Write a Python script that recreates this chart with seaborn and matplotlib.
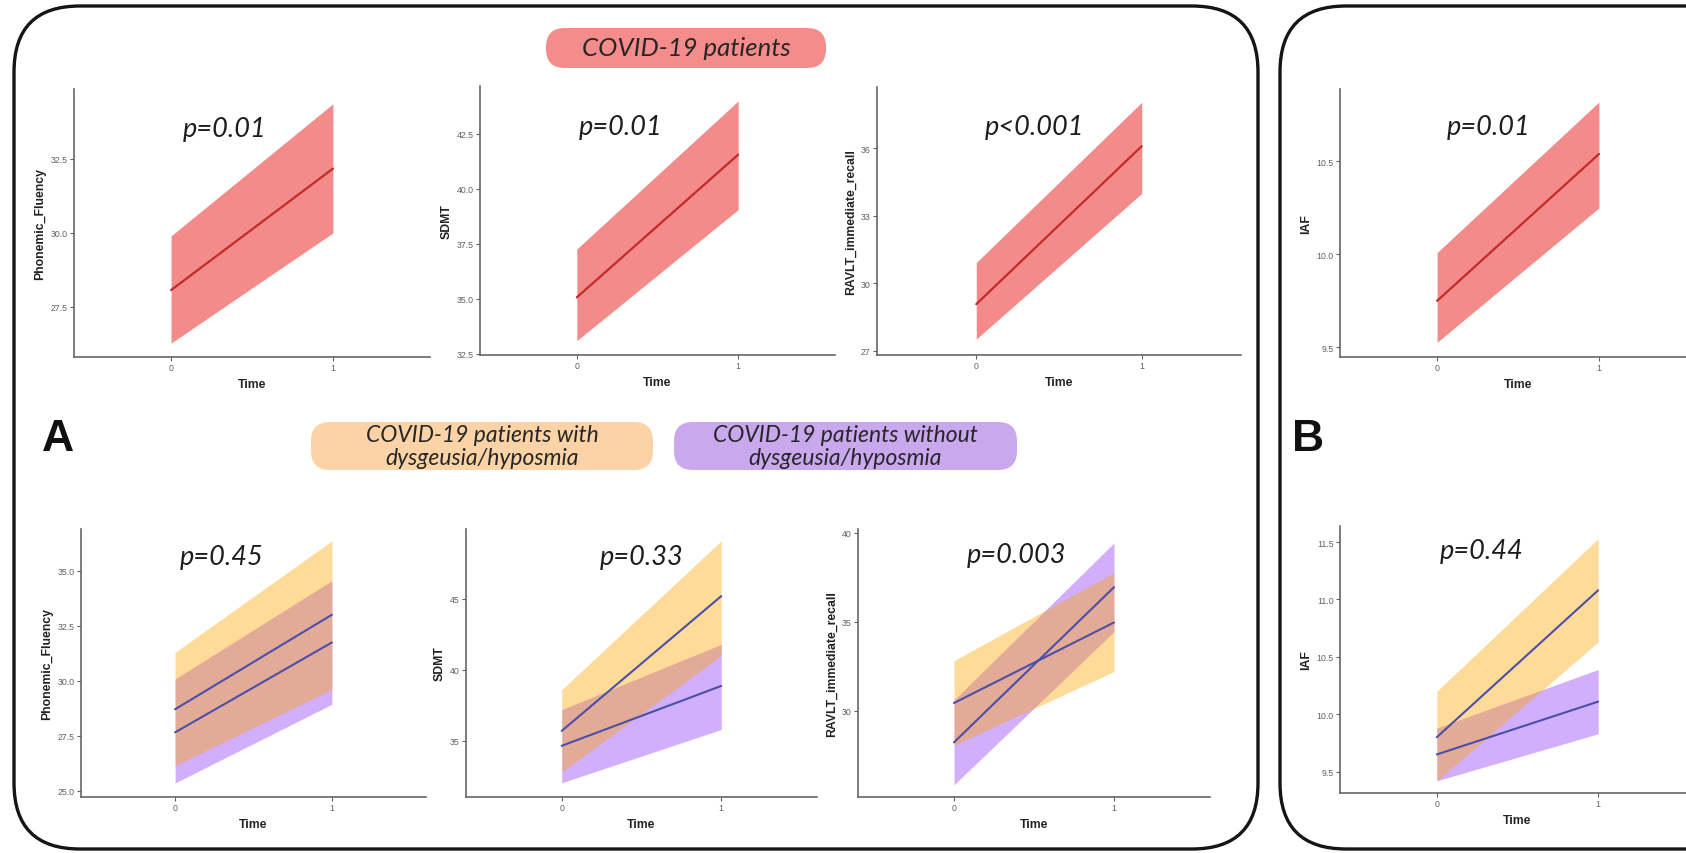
import numpy as np
import pandas as pd
import matplotlib
matplotlib.use("Agg")
import matplotlib.pyplot as plt
from matplotlib.patches import FancyBboxPatch
from matplotlib.ticker import FormatStrFormatter
import seaborn as sns

# ---------------------------------------------------------------------------
# Data: estimated marginal means with confidence bands at the two time points
# ---------------------------------------------------------------------------
time = [0, 1]

# All COVID-19 patients
phon_all_mean = [28.07, 32.17]
phon_all_lo = [26.28, 30.00]
phon_all_hi = [29.90, 34.36]

sdmt_all_mean = [35.07, 41.56]
sdmt_all_lo = [33.10, 39.06]
sdmt_all_hi = [37.27, 44.00]

ravlt_all_mean = [29.07, 36.09]
ravlt_all_lo = [27.52, 33.99]
ravlt_all_hi = [30.92, 38.04]

iaf_all_mean = [9.75, 10.54]
iaf_all_lo = [9.527, 10.25]
iaf_all_hi = [10.01, 10.82]

# Patients with dysgeusia/hyposmia
phon_with_mean = [28.70, 33.00]
phon_with_lo = [26.14, 29.60]
phon_with_hi = [31.29, 36.36]
sdmt_with_mean = [35.70, 45.20]
sdmt_with_lo = [32.80, 41.00]
sdmt_with_hi = [38.60, 49.10]
ravlt_with_mean = [30.43, 34.95]
ravlt_with_lo = [28.05, 32.20]
ravlt_with_hi = [32.81, 37.75]
iaf_with_mean = [9.80, 11.08]
iaf_with_lo = [9.42, 10.63]
iaf_with_hi = [10.20, 11.53]

# Patients without dysgeusia/hyposmia
phon_without_mean = [27.65, 31.74]
phon_without_lo = [25.35, 28.93]
phon_without_hi = [30.08, 34.55]
sdmt_without_mean = [34.65, 38.87]
sdmt_without_lo = [32.04, 35.80]
sdmt_without_hi = [37.20, 41.80]
ravlt_without_mean = [28.22, 36.93]
ravlt_without_lo = [25.83, 34.44]
ravlt_without_hi = [30.60, 39.42]
iaf_without_mean = [9.65, 10.11]
iaf_without_lo = [9.42, 9.83]
iaf_without_hi = [9.88, 10.39]

p_top = ["p=0.01", "p=0.01", "p<0.001", "p=0.01"]
p_bottom = ["p=0.45", "p=0.33", "p=0.003", "p=0.44"]

measure_labels = ["Phonemic_Fluency", "SDMT", "RAVLT_immediate_recall", "IAF"]
group_titles = ["COVID-19 patients",
                "COVID-19 patients with\ndysgeusia/hyposmia",
                "COVID-19 patients without\ndysgeusia/hyposmia"]

# ---------------------------------------------------------------------------
sns.set_theme(style="ticks")
plt.rcParams["font.family"] = ["Liberation Sans", "DejaVu Sans"]

W, H = 1686, 854
fig = plt.figure(figsize=(W / 100, H / 100), dpi=100)
fig.patch.set_facecolor("white")

RED_FILL = "#F38B8B"
RED_LINE = "#C42A2A"
ORANGE = (1.0, 0.647, 0.0)
PURPLE = (0.56, 0.22, 0.98)
LINE_BLUE = "#4B4FA8"


def px_axes(x0, y0, x1, y1):
    """Axes placed by pixel box (left, top, right, bottom)."""
    return fig.add_axes([x0 / W, 1 - y1 / H, (x1 - x0) / W, (y1 - y0) / H])


def style_axes(ax, ylabel, ylim, yticks, fmt):
    ax.set_xlim(-0.6, 1.6)
    ax.set_ylim(*ylim)
    ax.set_xticks([0, 1])
    ax.set_yticks(yticks)
    ax.yaxis.set_major_formatter(FormatStrFormatter(fmt))
    ax.set_facecolor("none")
    sns.despine(ax=ax)
    for s in ("left", "bottom"):
        ax.spines[s].set_color("#666666")
        ax.spines[s].set_linewidth(1.2)
    ax.tick_params(labelsize=6.3, length=3, width=0.8, colors="#606060", pad=1.5)
    ax.set_xlabel("Time", fontsize=8.8, fontweight="bold", color="#222222", labelpad=4)
    ax.set_ylabel(ylabel, fontsize=8.8, fontweight="bold", color="#222222", labelpad=3)


def single_panel(ax, mean, lo, hi):
    ax.fill_between(time, lo, hi, color=RED_FILL, lw=0, zorder=1)
    df = pd.DataFrame({"Time": time, "value": mean})
    sns.lineplot(data=df, x="Time", y="value", ax=ax, color=RED_LINE, lw=1.6, zorder=3)


def group_panel(ax, w_mean, w_lo, w_hi, wo_mean, wo_lo, wo_hi):
    ax.fill_between(time, wo_lo, wo_hi, color=PURPLE, alpha=0.40, lw=0, zorder=1)
    ax.fill_between(time, w_lo, w_hi, color=ORANGE, alpha=0.40, lw=0, zorder=2)
    df = pd.DataFrame({
        "Time": time * 2,
        "value": list(w_mean) + list(wo_mean),
        "Group": ["with"] * 2 + ["without"] * 2,
    })
    sns.lineplot(data=df, x="Time", y="value", hue="Group", ax=ax,
                 palette={"with": LINE_BLUE, "without": LINE_BLUE},
                 lw=1.5, legend=False, zorder=3)


# Top row: all patients
ax1 = px_axes(74, 90, 430, 358)
single_panel(ax1, phon_all_mean, phon_all_lo, phon_all_hi)
style_axes(ax1, measure_labels[0], (25.81, 34.86), [27.5, 30.0, 32.5], "%.1f")

ax2 = px_axes(480, 87, 835, 356)
single_panel(ax2, sdmt_all_mean, sdmt_all_lo, sdmt_all_hi)
style_axes(ax2, measure_labels[1], (32.45, 44.68), [32.5, 35.0, 37.5, 40.0, 42.5], "%.1f")

ax3 = px_axes(877, 88, 1241, 356)
single_panel(ax3, ravlt_all_mean, ravlt_all_lo, ravlt_all_hi)
style_axes(ax3, measure_labels[2], (26.81, 38.72), [27, 30, 33, 36], "%d")

ax4 = px_axes(1340, 90, 1696, 358)
single_panel(ax4, iaf_all_mean, iaf_all_lo, iaf_all_hi)
style_axes(ax4, measure_labels[3], (9.448, 10.89), [9.5, 10.0, 10.5], "%.1f")

# Bottom row: with vs without dysgeusia/hyposmia
ax5 = px_axes(81, 530, 426, 798)
group_panel(ax5, phon_with_mean, phon_with_lo, phon_with_hi,
            phon_without_mean, phon_without_lo, phon_without_hi)
style_axes(ax5, measure_labels[0], (24.71, 36.9), [25.0, 27.5, 30.0, 32.5, 35.0], "%.1f")

ax6 = px_axes(466, 530, 817, 798)
group_panel(ax6, sdmt_with_mean, sdmt_with_lo, sdmt_with_hi,
            sdmt_without_mean, sdmt_without_lo, sdmt_without_hi)
style_axes(ax6, measure_labels[1], (31.04, 49.93), [35, 40, 45], "%d")

ax7 = px_axes(858, 530, 1210, 798)
group_panel(ax7, ravlt_with_mean, ravlt_with_lo, ravlt_with_hi,
            ravlt_without_mean, ravlt_without_lo, ravlt_without_hi)
style_axes(ax7, measure_labels[2], (25.15, 40.2), [30, 35, 40], "%d")

ax8 = px_axes(1340, 527, 1695, 794)
group_panel(ax8, iaf_with_mean, iaf_with_lo, iaf_with_hi,
            iaf_without_mean, iaf_without_lo, iaf_without_hi)
style_axes(ax8, measure_labels[3], (9.314, 11.64), [9.5, 10.0, 10.5, 11.0, 11.5], "%.1f")

# ---------------------------------------------------------------------------
# Overlay layer in pixel units: frames, group pills, p-values, panel letters
# ---------------------------------------------------------------------------
ov = fig.add_axes([0, 0, 1, 1], zorder=10)
ov.set_xlim(0, W)
ov.set_ylim(H, 0)
ov.axis("off")
ov.patch.set_alpha(0)

frame_kw = dict(boxstyle="round,pad=0,rounding_size=66", fill=False,
                lw=2.4, ec="#151515")
ov.add_patch(FancyBboxPatch((14, 7), 1258 - 14, 850 - 7, **frame_kw))
ov.add_patch(FancyBboxPatch((1280, 7), 1760 - 1280, 850 - 7, **frame_kw))

pill_kw = dict(boxstyle="round,pad=0,rounding_size=19", ec="none")
ov.add_patch(FancyBboxPatch((546, 29), 280, 40, fc="#F48C8C", **pill_kw))
ov.add_patch(FancyBboxPatch((311, 423), 342, 48, fc="#FBD3A6", **pill_kw))
ov.add_patch(FancyBboxPatch((674, 423), 343, 48, fc="#C9A8EE", **pill_kw))

pill_text = dict(ha="center", va="center", fontstyle="italic",
                 fontfamily=["Lato", "DejaVu Sans"], color="#262626")
ov.text(686, 48, group_titles[0], fontsize=18.5, **pill_text)
ov.text(482, 447, group_titles[1], fontsize=16.5, linespacing=1.12, **pill_text)
ov.text(845, 447, group_titles[2], fontsize=16.5, linespacing=1.12, **pill_text)

p_kw = dict(ha="center", va="center", fontstyle="italic",
            fontfamily=["Lato", "DejaVu Sans"], fontsize=19.5, color="#1E1E1E")
for (x, y), txt in zip([(225, 130), (621, 128), (1035, 128), (1489, 128)], p_top):
    ov.text(x, y, txt, **p_kw)
for (x, y), txt in zip([(222, 558), (642, 558), (1017, 556), (1482, 552)], p_bottom):
    ov.text(x, y, txt, **p_kw)

ov.text(58, 440, "A", ha="center", va="center", fontsize=32,
        fontweight="bold", color="#111111")
ov.text(1308, 440, "B", ha="center", va="center", fontsize=32,
        fontweight="bold", color="#111111")

fig.savefig("out.png", dpi=100, facecolor="white")
